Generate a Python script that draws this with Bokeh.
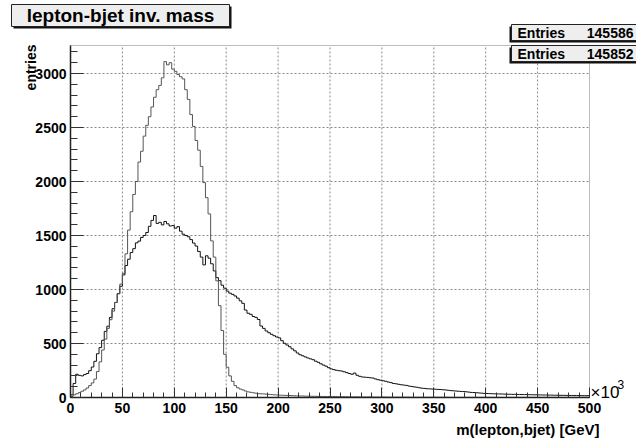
from bokeh.plotting import figure
from bokeh.models import Range1d, Label, BoxAnnotation, FixedTicker
from bokeh.embed import file_html
from bokeh.resources import INLINE
import numpy as np

# ---------------- data ----------------
BIN_WIDTH = 2.5  # GeV (x10^3 MeV)
narrow = [
    10, 25, 35, 45, 58, 70, 88, 110, 135, 170,
    240, 330, 440, 540, 640, 720, 800, 880, 960, 1050,
    1150, 1330, 1550, 1720, 1880, 2000, 2180, 2280, 2420, 2520,
    2600, 2690, 2780, 2850, 2890, 2960, 3110, 3080, 3100, 3040,
    3020, 2990, 2970, 2950, 2850, 2760, 2620, 2510, 2380, 2290,
    2140, 1990, 1850, 1700, 1450, 1300, 1080, 850, 620, 400,
    280, 200, 150, 110, 90, 78, 70, 60, 52, 48,
    44, 40, 36, 34, 33, 31, 29, 27, 25, 24,
    22, 21, 20, 19, 18, 17, 16, 15, 14, 14,
    13, 12, 12, 11, 11, 10, 10, 9, 9, 9,
    8, 8, 8, 7, 7, 7, 7, 6, 6, 6,
    6, 5, 5, 5, 5, 5, 4, 4, 4, 4,
    4, 4, 3, 3, 3, 3, 3, 3, 3, 3,
    3, 2, 2, 2, 2, 2, 2, 2, 2, 2,
    2, 2, 2, 2, 2, 2, 1, 1, 1, 1,
    1, 1, 1, 1, 1, 1, 1, 1, 1, 1,
    1, 1, 1, 1, 1, 1, 1, 1, 1, 1,
    1, 1, 1, 1, 1, 1, 1, 1, 1, 1,
    1, 1, 1, 1, 1, 1, 1, 1, 1, 1,
    1, 1, 1, 1, 1, 1, 1, 1, 1, 1,
]
broad = [
    25, 130, 215, 205, 200, 212, 222, 248, 282, 335,
    405, 462, 530, 612, 660, 742, 822, 880, 962, 1030,
    1135, 1222, 1280, 1342, 1378, 1432, 1448, 1482, 1500, 1528,
    1585, 1640, 1685, 1612, 1622, 1598, 1630, 1608, 1588, 1592,
    1568, 1582, 1540, 1512, 1500, 1488, 1462, 1430, 1402, 1352,
    1300, 1228, 1312, 1290, 1238, 1172, 1110, 1082, 1040, 1012,
    985, 966, 955, 940, 920, 895, 872, 810, 780, 770,
    750, 742, 722, 662, 640, 616, 600, 585, 572, 560,
    552, 526, 502, 486, 470, 450, 432, 412, 396, 386,
    376, 366, 358, 350, 336, 326, 312, 300, 290, 276,
    265, 258, 252, 248, 245, 238, 230, 222, 215, 226,
    206, 196, 190, 188, 186, 183, 180, 172, 165, 160,
    155, 150, 143, 138, 130, 127, 122, 118, 115, 112,
    106, 102, 98, 95, 90, 86, 84, 81, 80, 78,
    77, 75, 74, 72, 70, 67, 64, 62, 60, 58,
    56, 55, 53, 50, 47, 46, 44, 42, 40, 38,
    37, 36, 35, 34, 33, 33, 32, 31, 30, 30,
    29, 29, 28, 28, 27, 27, 26, 26, 25, 25,
    24, 24, 23, 23, 22, 22, 21, 21, 20, 20,
    20, 19, 19, 19, 18, 18, 18, 17, 17, 17,
]
x_ticks = [0, 50, 100, 150, 200, 250, 300, 350, 400, 450, 500]
y_ticks = [0, 500, 1000, 1500, 2000, 2500, 3000]
title_text = "lepton-bjet inv. mass"
entries = ["145586", "145852"]
x_title = "m(lepton,bjet) [GeV]"
y_title = "entries"

# ---------------- layout (pixel geometry of the ROOT canvas) ----------------
W, H = 636, 441
FL, FR, FT, FB = 70, 589, 45, 397
X0, X1 = 0, 500
Y_PER_PX = 3000 / 324.0
Y1 = (FB - FT) * Y_PER_PX


def px2x(px):
    return X0 + (px - FL) * (X1 - X0) / (FR - FL)


def py2y(py):
    return (FB - py) * Y_PER_PX


p = figure(width=W, height=H,
           x_range=Range1d(px2x(0), px2x(W)), y_range=Range1d(py2y(H), py2y(0)),
           output_backend="svg", toolbar_location=None,
           min_border_left=0, min_border_right=0, min_border_top=0, min_border_bottom=0)
p.title.visible = False
p.background_fill_color = "white"
p.border_fill_color = "white"
p.outline_line_color = None
p.xgrid.visible = False
p.ygrid.visible = False

FONT = "Liberation Sans"

for ax in (p.xaxis, p.yaxis):
    ax.fixed_location = 0
    ax.axis_line_color = "#222222"
    ax.axis_line_width = 1.5
    ax.major_tick_out = 0
    ax.minor_tick_out = 0
    ax.major_tick_line_color = "#333333"
    ax.minor_tick_line_color = "#333333"
    ax.major_label_text_font = FONT
    ax.major_label_text_font_style = "bold"
    ax.major_label_text_font_size = "14px"
    ax.major_label_text_color = "black"

p.xaxis.bounds = (X0, X1)
p.yaxis.bounds = (0, Y1)
p.xaxis.ticker = FixedTicker(ticks=x_ticks, minor_ticks=list(range(0, 501, 10)))
p.yaxis.ticker = FixedTicker(ticks=y_ticks, minor_ticks=list(range(0, 3300, 100)))
p.xaxis.major_tick_in = 10
p.xaxis.minor_tick_in = 5
p.yaxis.major_tick_in = 13
p.yaxis.minor_tick_in = 7
p.xaxis.major_label_standoff = 5
p.yaxis.major_label_standoff = 4

# dotted grid, bounded to the frame
gx = x_ticks[1:-1]
gy = y_ticks[1:]
p.segment(x0=gx, y0=[0] * len(gx), x1=gx, y1=[Y1] * len(gx),
          line_color="#888888", line_dash="2 2", line_width=1)
p.segment(x0=[X0] * len(gy), y0=gy, x1=[X1] * len(gy), y1=gy,
          line_color="#888888", line_dash="2 2", line_width=1)

# frame
p.add_layout(BoxAnnotation(left=X0, right=X1, bottom=0, top=Y1, fill_alpha=0,
                           line_color="#222222", line_width=1))

# ---------------- histograms ----------------
def outline(vals):
    n = len(vals)
    edges = np.arange(n + 1) * BIN_WIDTH
    xs = np.repeat(edges, 2)
    ys = np.concatenate([[0], np.repeat(vals, 2), [0]])
    return xs, ys

xb, yb = outline(broad)
xn, yn = outline(narrow)
p.line(xb, yb, line_color="#111111", line_width=1)
p.line(xn, yn, line_color="#555555", line_width=1)

# ---------------- paves ----------------
def box(l, t, r, b, fill, line=None):
    p.add_layout(BoxAnnotation(left=px2x(l), right=px2x(r), top=py2y(t), bottom=py2y(b),
                               fill_color=fill, fill_alpha=1,
                               line_color=line if line else fill, line_alpha=1 if line else 0,
                               line_width=1, level="overlay"))

box(13, 6, 231, 28, "#111111")
box(11, 4, 229, 26, "#eeeeee", "#222222")
p.add_layout(Label(x=px2x(120), y=py2y(15), text=title_text, text_align="center",
                   text_baseline="middle", text_font=FONT, text_font_style="bold",
                   text_font_size="19px", text_color="black", level="overlay"))

for i, ent in enumerate(entries):
    top = 24 + i * 21
    bot = top + 16
    box(509, top + 2, 640, bot + 2, "#111111")
    box(511, top, 640, bot, "#eeeeee", "#222222")
    p.add_layout(Label(x=px2x(517), y=py2y((top + bot) / 2 + 0.5), text="Entries",
                       text_align="left", text_baseline="middle", text_font=FONT,
                       text_font_style="bold", text_font_size="14px", text_color="black",
                       level="overlay"))
    p.add_layout(Label(x=px2x(633), y=py2y((top + bot) / 2 + 0.5), text=ent,
                       text_align="right", text_baseline="middle", text_font=FONT,
                       text_font_style="bold", text_font_size="14px", text_color="black",
                       level="overlay"))

# ---------------- axis titles ----------------
p.add_layout(Label(x=px2x(30), y=py2y(44), text=y_title, angle=np.pi / 2,
                   text_align="right", text_baseline="middle", text_font=FONT,
                   text_font_style="bold", text_font_size="14px", text_color="black"))
p.add_layout(Label(x=px2x(599), y=py2y(429), text=x_title, text_align="right",
                   text_baseline="middle", text_font=FONT, text_font_style="bold",
                   text_font_size="15px", text_color="black"))
p.add_layout(Label(x=px2x(590), y=py2y(392), text="\u00d710", text_align="left",
                   text_baseline="middle", text_font=FONT,
                   text_font_size="17px", text_color="black"))
p.add_layout(Label(x=px2x(617), y=py2y(384), text="3", text_align="left",
                   text_baseline="middle", text_font=FONT,
                   text_font_size="12px", text_color="black"))

open("out.html", "w").write(file_html(p, INLINE))
